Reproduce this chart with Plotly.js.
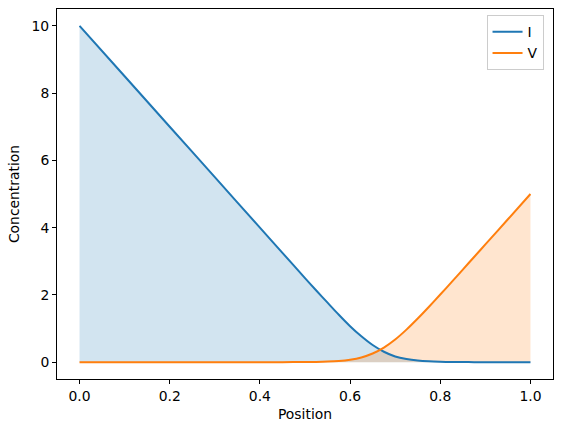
<!DOCTYPE html>
<html>
<head>
<meta charset="utf-8">
<script src="https://cdn.plot.ly/plotly-3.0.1.min.js"></script>
<style>html,body{margin:0;padding:0;background:#fff;}#chart{width:563px;height:432px;}</style>
</head>
<body>
<div id="chart"></div>
<script>
// Positions along the domain
const position = [0.0, 0.1, 0.2, 0.3, 0.4, 0.45, 0.5, 0.525, 0.55, 0.575, 0.6, 0.625, 0.65, 0.675, 0.7, 0.725, 0.75, 0.775, 0.8, 0.825, 0.85, 0.875, 0.9, 0.95, 1.0];
// Concentration of I
const concI = [10.0, 8.5, 7.0, 5.5, 4.0, 3.25, 2.5, 2.13, 1.77, 1.41, 1.07, 0.77, 0.51, 0.31, 0.17, 0.093, 0.048, 0.024, 0.012, 0.006, 0.003, 0.0015, 0.001, 0.0, 0.0];
// Concentration of V
const concV = [0.0, 0.0, 0.0, 0.0, 0.0, 0.001, 0.005, 0.009, 0.019, 0.038, 0.075, 0.142, 0.257, 0.434, 0.674, 0.968, 1.298, 1.649, 2.012, 2.38, 2.754, 3.127, 3.5, 4.25, 5.0];
const seriesNames = ['I', 'V'];
const xTicks = [0, 0.2, 0.4, 0.6, 0.8, 1.0];
const yTicks = [0, 2, 4, 6, 8, 10];

const blue = '#1f77b4', orange = '#ff7f0e';
const font = {family: 'DejaVu Sans, sans-serif', size: 13.9, color: '#000'};

const traces = [
  {x: position, y: concI, type: 'scatter', mode: 'lines', fill: 'tozeroy',
   fillcolor: 'rgba(31,119,180,0.2)', line: {width: 0.8, color: 'rgba(31,119,180,0.2)', shape: 'spline', smoothing: 0.8}, showlegend: false, hoverinfo: 'skip'},
  {x: position, y: concV, type: 'scatter', mode: 'lines', fill: 'tozeroy',
   fillcolor: 'rgba(255,127,14,0.2)', line: {width: 0.8, color: 'rgba(255,127,14,0.2)', shape: 'spline', smoothing: 0.8}, showlegend: false, hoverinfo: 'skip'},
  {x: position, y: concI, type: 'scatter', mode: 'lines', name: seriesNames[0], line: {color: blue, width: 2, shape: 'spline', smoothing: 0.8}},
  {x: position, y: concV, type: 'scatter', mode: 'lines', name: seriesNames[1], line: {color: orange, width: 2, shape: 'spline', smoothing: 0.8}}
];

const axisCommon = {
  showgrid: false, zeroline: false, showline: true, linecolor: '#000', linewidth: 1, mirror: true,
  ticks: 'outside', ticklen: 4, tickwidth: 1, tickcolor: '#000', tickfont: font
};

const layout = {
  width: 563, height: 432,
  margin: {l: 57, r: 10, t: 9, b: 53},
  paper_bgcolor: '#fff', plot_bgcolor: '#fff',
  font: font,
  xaxis: Object.assign({}, axisCommon, {
    range: [-0.05, 1.05], tickvals: xTicks, tickformat: '.1f',
    title: {text: 'Position', font: font, standoff: 6}
  }),
  yaxis: Object.assign({}, axisCommon, {
    range: [-0.5, 10.5], tickvals: yTicks, tickformat: 'd',
    title: {text: 'Concentration', font: font, standoff: 8}
  }),
  legend: {
    x: 0.866, y: 0.983, xanchor: 'left', yanchor: 'top',
    bgcolor: 'rgba(255,255,255,0.8)', bordercolor: '#cccccc', borderwidth: 1,
    font: font, itemwidth: 30, tracegroupgap: 0
  },
  showlegend: true
};

Plotly.newPlot('chart', traces, layout, {displayModeBar: false, staticPlot: true});
</script>
</body>
</html>
